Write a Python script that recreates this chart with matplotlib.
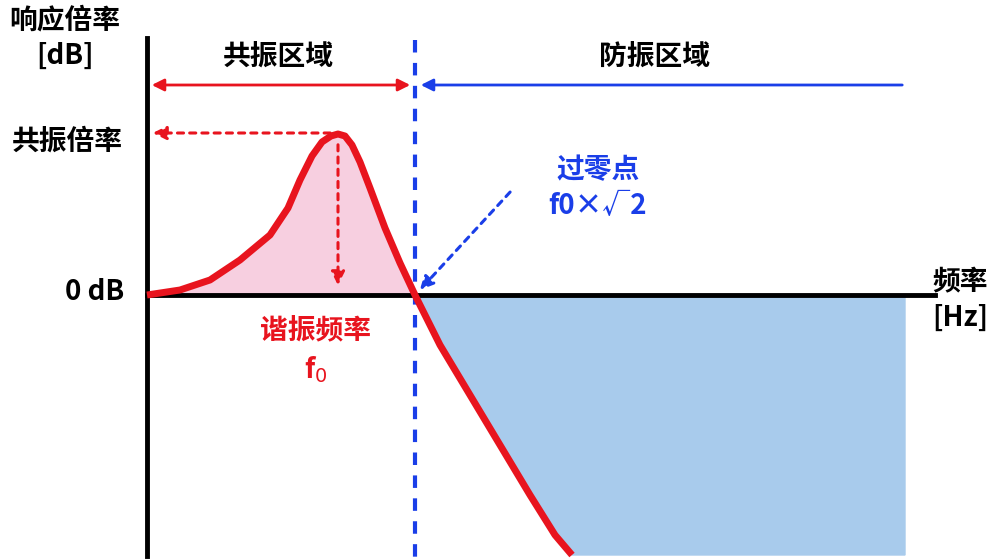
import matplotlib
matplotlib.use("Agg")
import matplotlib.pyplot as plt
import numpy as np
from matplotlib.patches import Polygon

plt.rcParams["font.family"] = ["Noto Sans CJK SC", "DejaVu Sans"]

# curve (pixel-like schematic coordinates)
curve_x = [147, 180, 210, 240, 270, 288, 300, 312, 322, 331, 338, 345, 352, 360, 370, 385, 400, 415, 440, 470, 500, 530, 555, 572]
curve_y = [295, 290, 280, 260, 235, 208, 180, 156, 142, 136, 134, 136, 145, 162, 188, 228, 263, 295, 345, 395, 445, 495, 535, 555]
peak_x, peak_y = 338, 135
cross_x = 415
right_x = 905

fig = plt.figure(figsize=(9.98, 5.59), dpi=100)
ax = fig.add_axes([0, 0, 1, 1])
ax.set_xlim(0, 998)
ax.set_ylim(559, 0)
ax.axis("off")

cx = np.array(curve_x); cy = np.array(curve_y)
m = cx <= cross_x
ax.fill_between(cx[m], cy[m], 295, color="#f7cfe0", zorder=1)
rx = cx[cx >= cross_x]; ry = cy[cx >= cross_x]
poly = list(zip(rx, ry)) + [(right_x, 555), (right_x, 295)]
ax.add_patch(Polygon(poly, closed=True, color="#a8cbec", zorder=1))

ax.plot([147, 147], [38, 556], color="black", lw=3.5, zorder=3)
ax.plot([147, 935], [295, 295], color="black", lw=3.5, zorder=3)
ax.plot([cross_x, cross_x], [40, 559], color="#1a3ee8", lw=3, ls=(0, (3, 2.5)), zorder=4)
ax.plot(cx, cy, color="#e8141e", lw=5, zorder=5, solid_capstyle="butt", solid_joinstyle="round")

red = "#e8141e"; blue = "#1a3ee8"
ax.annotate("", xy=(149, 85), xytext=(413, 85),
            arrowprops=dict(arrowstyle="<|-|>", color=red, lw=2, mutation_scale=18))
ax.annotate("", xy=(418, 85), xytext=(right_x, 85),
            arrowprops=dict(arrowstyle="-|>", color=blue, lw=2, mutation_scale=18))
ax.annotate("", xy=(150, 133), xytext=(peak_x - 5, 133),
            arrowprops=dict(arrowstyle="-|>", color=red, lw=2.2, ls=(0, (2, 2)), mutation_scale=20))
ax.annotate("", xy=(peak_x, 288), xytext=(peak_x, 142),
            arrowprops=dict(arrowstyle="-|>", color=red, lw=2.2, ls=(0, (2, 2)), mutation_scale=20))
ax.annotate("", xy=(418, 292), xytext=(512, 190),
            arrowprops=dict(arrowstyle="-|>", color=blue, lw=2.2, ls=(0, (2, 2)), mutation_scale=20))

fs = 20
kw = dict(fontsize=fs, fontweight="bold", ha="center", va="center", linespacing=1.35)
ax.text(65, 38, "响应倍率\n[dB]", **kw)
ax.text(278, 57, "共振区域", **kw)
ax.text(655, 57, "防振区域", **kw)
ax.text(67, 142, "共振倍率", **kw)
ax.text(95, 292, "0 dB", **kw)
ax.text(960, 300, "频率\n[Hz]", **kw)
ax.text(316, 330, "谐振频率", color=red, **kw)
ax.text(316, 370, "f$_0$", color=red, **kw)
ax.text(598, 188, "过零点\nf0×√2", color=blue, **kw)

fig.savefig("out.png", dpi=100)
